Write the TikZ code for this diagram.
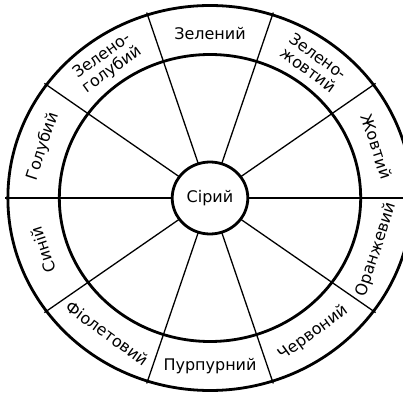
\documentclass[tikz,border=0pt]{standalone}
\usepackage{fontspec}
\setmainfont{DejaVu Sans}
\begin{document}
\begin{tikzpicture}[x=1pt,y=1pt,
  thickline/.style={line width=2.8pt},
  spoke/.style={line width=1.3pt},
  lbl/.style={font=\fontsize{16}{17}\selectfont, align=center, inner sep=0pt}]
\useasboundingbox (0,0) rectangle (403,396);
\clip (0,0) rectangle (403,396);
\begin{scope}[shift={(210,198)}, xscale=1.05]
  \foreach \a in {0,36,...,324} \draw[spoke] (\a:36) -- (\a:195);
  \draw[thickline] (0,0) circle (192.5);
  \draw[thickline] (0,0) circle (143.5);
  \draw[thickline, fill=white] (0,0) circle (36);
  \node[lbl] (grey) at (0,0) {Сірий};
  \node[lbl, rotate=-72] (yellow) at (18:167) {Жовтий};
  \node[lbl, rotate=-36] (yellowgreen) at (54:167) {Зелено-\\жовтий};
  \node[lbl] (green) at (90:164) {Зелений};
  \node[lbl, rotate=36] (bluegreen) at (126:167) {Зелено-\\голубий};
  \node[lbl, rotate=72] (lightblue) at (162:167) {Голубий};
  \node[lbl, rotate=108] (blue) at (198:167) {Синій};
  \node[lbl, rotate=-36] (violet) at (234:167) {Фіолетовий};
  \node[lbl] (purple) at (270:168) {Пурпурний};
  \node[lbl, rotate=36] (red) at (306:167) {Червоний};
  \node[lbl, rotate=72] (orange) at (342:167) {Оранжевий};
\end{scope}
\end{tikzpicture}
\end{document}
